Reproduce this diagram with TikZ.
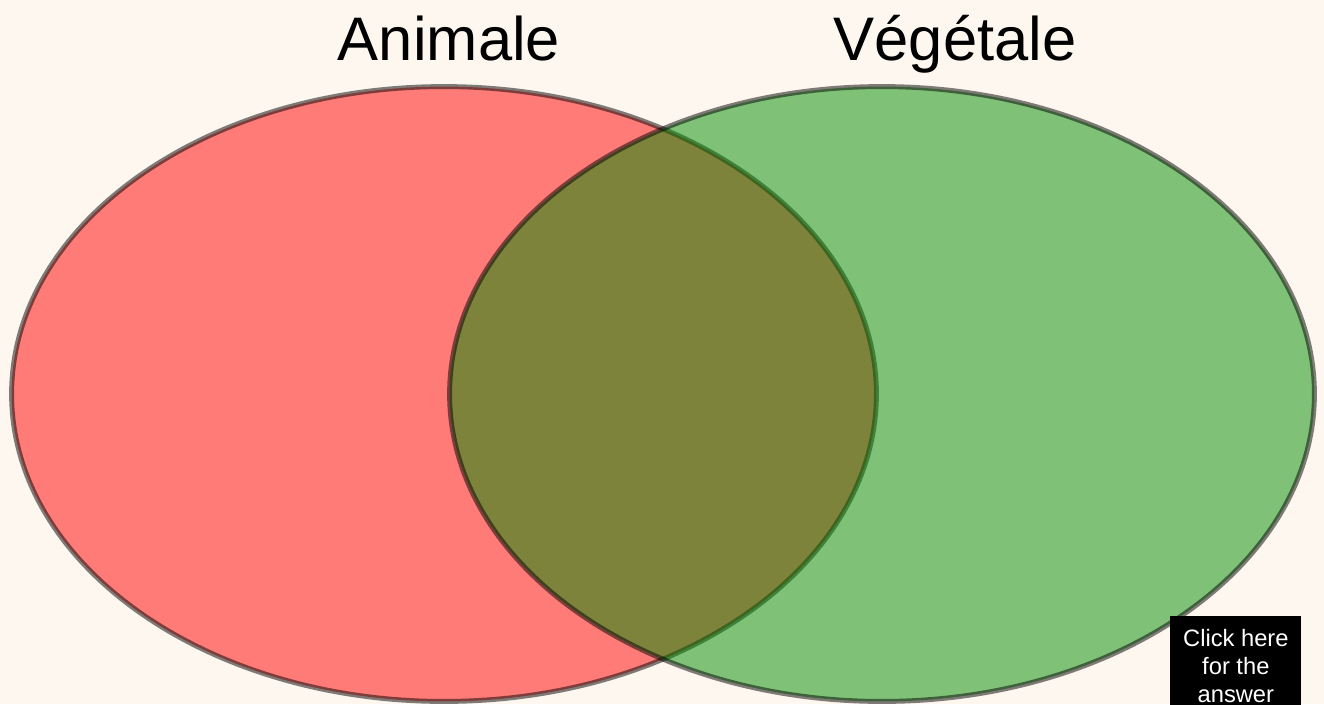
\documentclass[tikz,border=0pt]{standalone}
\usepackage{fontspec}
\setmainfont{Liberation Sans}
\usepackage{xcolor}
\definecolor{paper}{RGB}{254,247,240}
\definecolor{animred}{RGB}{255,0,0}
\definecolor{vegreen}{RGB}{0,140,0}
\usepackage{tikz}
\usetikzlibrary{positioning,shapes.geometric}
\tikzset{
  setbox/.style={ellipse, inner sep=0pt, minimum width=17.3cm, minimum height=12.3cm,
                 draw=black, draw opacity=0.5, fill opacity=0.5, line width=2.8pt},
  settitle/.style={font=\fontsize{35}{42}\selectfont, anchor=base, inner sep=0pt},
  answerbox/.style={fill=black, minimum width=2.62cm, minimum height=2cm,
                    anchor=north west, inner sep=0pt},
  answertext/.style={text=white, align=center, font=\fontsize{13.5}{15.8}\selectfont,
                     anchor=north, inner sep=0pt},
}
\begin{document}
\begin{tikzpicture}[x=0.02cm,y=-0.02cm]
\fill[paper] (0,0) rectangle (1324,704);
\useasboundingbox (0,0) rectangle (1324,704);
% the two sets
\node[setbox, fill=animred] (animal) at (444,394) {};
\node[setbox, fill=vegreen] (vegetal) at (882,394) {};
\node[settitle] (animaltitle) at (449,60) {Animale};
\node[settitle] (vegetaltitle) at (955,60) {Végétale};
% answer button
\begin{scope}
\clip (0,0) rectangle (1324,704);
\node[answerbox] (answer) at (1170,616) {};
\node[answertext, below=0.26cm of answer.north] (answerlabel) {Click here\\for the\\answer};
\end{scope}
\end{tikzpicture}
\end{document}
